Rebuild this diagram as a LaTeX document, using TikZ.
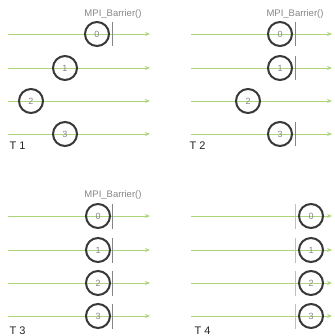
\documentclass[tikz,border=0pt]{standalone}
\usepackage{fontspec}
\setmainfont{Liberation Sans}
\usetikzlibrary{arrows.meta}
\definecolor{trackgreen}{HTML}{AED57A}
\definecolor{ringgray}{HTML}{383838}
\definecolor{labelgray}{HTML}{858585}
\begin{document}
\begin{tikzpicture}[x=1pt,y=-1pt,
  track/.style={draw=trackgreen, line width=0.9pt, -{Stealth[length=5pt,width=4pt]}},
  proc/.style={circle, draw=ringgray, line width=2pt, minimum size=24pt, inner sep=0pt, text=labelgray, font=\fontsize{9}{9}\selectfont},
  barrier/.style={draw=labelgray, line width=1pt},
  call/.style={text=labelgray, font=\fontsize{9.5}{10}\selectfont},
  stage/.style={anchor=west, text=black!85, font=\fontsize{11}{11}\selectfont}]
\useasboundingbox (0,0) rectangle (334,336);

% T 1
\node[call] (c1) at (113,14) {MPI\_Barrier()};
\foreach \r/\y/\x in {0/34/97, 1/68/65, 2/101/31, 3/134/65} {
  \coordinate (a1\r) at (8,\y);
  \coordinate (b1\r) at (150,\y);
  \draw[track] (a1\r) -- (b1\r);
  \node[proc] (p1\r) at (\x,\y) {\r};
}
\coordinate (top1) at (112,22);
\coordinate (bot1) at (112,46);
\draw[barrier] (top1) -- (bot1);
\node[stage] (t1) at (6,146) {T 1};

% T 2
\node[call] (c2) at (295,14) {MPI\_Barrier()};
\foreach \r/\y/\x in {0/34/280, 1/68/280, 2/101/248, 3/134/280} {
  \coordinate (a2\r) at (191,\y);
  \coordinate (b2\r) at (332,\y);
  \draw[track] (a2\r) -- (b2\r);
  \node[proc] (p2\r) at (\x,\y) {\r};
}
\foreach \r/\y in {0/34, 1/68, 3/134} {
  \coordinate (top2\r) at (295,\y-12);
  \coordinate (bot2\r) at (295,\y+12);
  \draw[barrier] (top2\r) -- (bot2\r);
}
\node[stage] (t2) at (186,146) {T 2};

% T 3
\node[call] (c3) at (113,195) {MPI\_Barrier()};
\foreach \r/\y in {0/216, 1/250, 2/283, 3/316} {
  \coordinate (a3\r) at (8,\y);
  \coordinate (b3\r) at (150,\y);
  \draw[track] (a3\r) -- (b3\r);
  \node[proc] (p3\r) at (98,\y) {\r};
  \coordinate (top3\r) at (112,\y-12);
  \coordinate (bot3\r) at (112,\y+13);
  \draw[barrier] (top3\r) -- (bot3\r);
}
\node[stage] (t3) at (6,331) {T 3};

% T 4
\foreach \r/\y in {0/216, 1/250, 2/283, 3/316} {
  \coordinate (a4\r) at (191,\y);
  \coordinate (b4\r) at (332,\y);
  \draw[track] (a4\r) -- (b4\r);
  \coordinate (top4\r) at (295,\y-12);
  \coordinate (bot4\r) at (295,\y+13);
  \draw[barrier, draw=trackgreen] (top4\r) -- (bot4\r);
  \node[proc] (p4\r) at (311,\y) {\r};
}
\node[stage] (t4) at (191,331) {T 4};
\end{tikzpicture}
\end{document}
